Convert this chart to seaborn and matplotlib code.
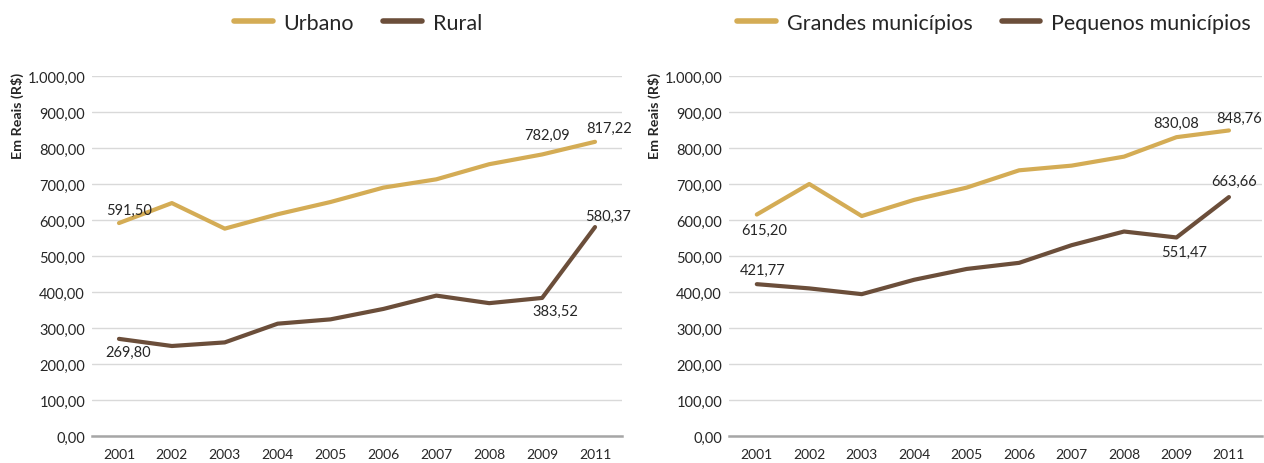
import matplotlib
matplotlib.use("Agg")
import matplotlib.pyplot as plt
import seaborn as sns
import pandas as pd
from matplotlib.lines import Line2D

years = ["2001", "2002", "2003", "2004", "2005", "2006", "2007", "2008", "2009", "2011"]
urbano = [591.50, 647, 576, 616, 650, 690, 713, 755, 782.09, 817.22]
rural = [269.80, 250, 260, 312, 324, 353, 390, 369, 383.52, 580.37]
grandes = [615.20, 700, 611, 656, 690, 738, 751, 776, 830.08, 848.76]
pequenos = [421.77, 410, 394, 434, 464, 481, 530, 568, 551.47, 663.66]

left_names = ["Urbano", "Rural"]
right_names = ["Grandes municípios", "Pequenos municípios"]
y_ticks = [0, 100, 200, 300, 400, 500, 600, 700, 800, 900, 1000]
y_ticklabels = ["0,00", "100,00", "200,00", "300,00", "400,00", "500,00",
                "600,00", "700,00", "800,00", "900,00", "1.000,00"]

GOLD = "#D4AC55"
BROWN = "#6B4E3A"
TXT = "#262626"

sns.set_theme(style="white")
plt.rcParams["font.family"] = ["Lato", "DejaVu Sans"]

fig = plt.figure(figsize=(12.64, 4.64), dpi=100)
axL = fig.add_axes([92 / 1264, 27 / 464, 530 / 1264, 360 / 464])
axR = fig.add_axes([729 / 1264, 27 / 464, 533 / 1264, 360 / 464])


def fmt(v):
    return f"{v:.2f}".replace(".", ",")


def draw(ax, s1, s2, names, xlim, labels):
    df = pd.DataFrame({"Ano": years * 2,
                       "Valor": s1 + s2,
                       "Serie": [names[0]] * len(years) + [names[1]] * len(years)})
    sns.lineplot(data=df, x="Ano", y="Valor", hue="Serie", sort=False,
                 palette=[GOLD, BROWN], linewidth=3.0, ax=ax, legend=False)
    ax.set_ylim(0, 1000)
    ax.set_xlim(*xlim)
    ax.set_yticks(y_ticks)
    ax.set_yticklabels(y_ticklabels)
    ax.tick_params(axis="both", length=0, labelsize=10.5, colors=TXT)
    ax.tick_params(axis="y", pad=5)
    ax.tick_params(axis="x", labelsize=10, pad=9)
    ax.yaxis.grid(True, color="#D9D9D9", linewidth=1)
    ax.xaxis.grid(False)
    ax.set_axisbelow(True)
    for sp in ["top", "right", "left"]:
        ax.spines[sp].set_visible(False)
    ax.spines["bottom"].set_color("#A6A6A6")
    ax.spines["bottom"].set_linewidth(1.8)
    ax.set_xlabel("")
    ax.set_ylabel("")
    for series, idx, dx, dy in labels:
        v = series[idx]
        ax.annotate(fmt(v), xy=(idx, v), xytext=(dx, dy), textcoords="offset pixels",
                    ha="center", va="center", fontsize=10.5, color=TXT,
                    annotation_clip=False)
    ax.text(-0.14, 1.012, "Em Reais (R$)", transform=ax.transAxes, rotation=90,
            ha="center", va="top", fontsize=10.3, fontweight="bold", color=TXT)


draw(axL, urbano, rural, left_names, (-0.51, 9.51), [
    (urbano, 0, 10, 13), (urbano, 8, 5, 20), (urbano, 9, 14, 14),
    (rural, 0, 9, -13), (rural, 8, 13, -13), (rural, 9, 13, 11),
])
draw(axR, grandes, pequenos, right_names, (-0.53, 9.63), [
    (grandes, 0, 7, -15), (grandes, 8, 0, 14), (grandes, 9, 10, 13),
    (pequenos, 0, 6, 14), (pequenos, 8, 8, -14), (pequenos, 9, 5, 16),
])

for names, cx in [(left_names, 358 / 1264), (right_names, 994 / 1264)]:
    handles = [Line2D([], [], color=GOLD, lw=4), Line2D([], [], color=BROWN, lw=4)]
    fig.legend(handles, names, loc="center", bbox_to_anchor=(cx, 1 - 24 / 464),
               ncol=2, frameon=False, fontsize=15.5, handlelength=1.8,
               handletextpad=0.5, columnspacing=1.35, labelcolor=TXT)

fig.savefig("out.png", dpi=100)
